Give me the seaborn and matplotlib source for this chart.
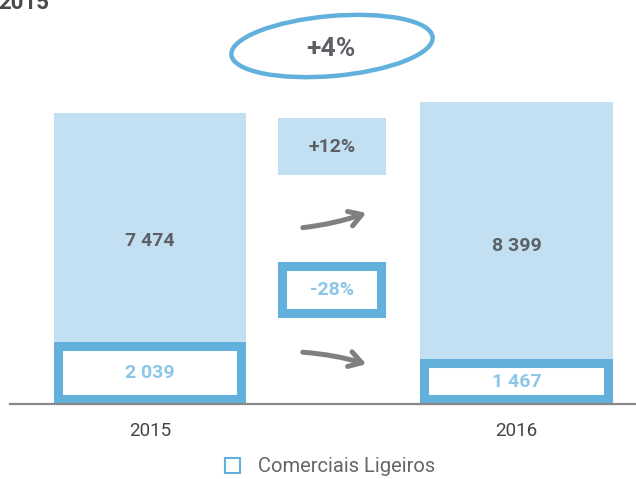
import matplotlib
matplotlib.use("Agg")
import matplotlib.pyplot as plt
import matplotlib.transforms as mtransforms
from matplotlib.patches import Rectangle, Ellipse, FancyArrowPatch, Patch
import seaborn as sns

# ---- data ----
years = ["2015", "2016"]
ligeiros = [2039, 1467]          # Comerciais Ligeiros (bottom segment)
outros = [7474, 8399]            # remaining (top segment)
totals = [a + b for a, b in zip(ligeiros, outros)]
var_outros = "+12%"
var_ligeiros = "-28%"
var_total = "+4%"
value_labels_lig = ["2 039", "1 467"]
value_labels_out = ["7 474", "8 399"]
legend_label = "Comerciais Ligeiros"
title_text = "2015"

# ---- style ----
sns.set_theme(style="white")
plt.rcParams["font.family"] = ["Roboto", "DejaVu Sans"]

LIGHT = "#c2e0f2"
BLUE = "#62b0dc"
TXT_BLUE = "#8cc6e8"
DARK = "#5d6166"
GRAY = "#808080"

W, H = 636, 479
fig = plt.figure(figsize=(W / 100, H / 100), dpi=100)
ax = fig.add_axes([10 / W, (H - 404) / H, 626 / W, 404 / H])

# pixel transform (top-left origin) for annotations
PX = mtransforms.Affine2D().scale(1, -1).translate(0, H)

sns.barplot(x=years, y=totals, color=LIGHT, saturation=1, width=0.525,
            ax=ax, linewidth=0)
n0 = len(ax.patches)
sns.barplot(x=years, y=ligeiros, color="white", saturation=1, width=0.525,
            edgecolor=BLUE, linewidth=13, ax=ax)
for p in ax.patches[n0:]:
    p.set_clip_path(p)

ymax = totals[0] * 404 / 291
ax.set_ylim(0, ymax)
ax.set_xlim(-0.3825, 1.3265)

for i in range(len(years)):
    ax.text(i, ligeiros[i] / 2, value_labels_lig[i], ha="center", va="center",
            fontsize=14, fontweight="bold", color=TXT_BLUE)
    ax.text(i, ligeiros[i] + outros[i] * 0.44, value_labels_out[i], ha="center",
            va="center", fontsize=14, fontweight="bold", color=DARK)

for s in ["top", "right", "left"]:
    ax.spines[s].set_visible(False)
ax.spines["bottom"].set_color("#888888")
ax.spines["bottom"].set_linewidth(1.6)
ax.set_yticks([])
ax.set_xlabel("")
ax.set_ylabel("")
ax.tick_params(axis="x", length=0, pad=13, labelsize=13.5, labelcolor="#444444")

# ---- annotations (pixel positions) ----
box1 = Rectangle((278, 118), 108, 57, transform=PX, facecolor=LIGHT,
                 edgecolor="none")
fig.add_artist(box1)
fig.text(332, 147, var_outros, transform=PX, ha="center", va="center",
         fontsize=14, fontweight="bold", color=DARK)

box2 = Rectangle((278, 262), 108, 56, transform=PX, facecolor="white",
                 edgecolor=BLUE, linewidth=13)
fig.add_artist(box2)
box2.set_clip_path(box2)
fig.text(332, 290, var_ligeiros, transform=PX, ha="center", va="center",
         fontsize=14, fontweight="bold", color=TXT_BLUE)

for (a, b, rad) in [((300, 228), (369, 212), 0.06), ((300, 352), (369, 365), -0.06)]:
    arr = FancyArrowPatch(a, b, transform=PX, connectionstyle=f"arc3,rad={rad}",
                          arrowstyle="->,head_length=9,head_width=5.5",
                          color=GRAY, linewidth=3.6, mutation_scale=1,
                          capstyle="round", joinstyle="round")
    fig.add_artist(arr)

ell = Ellipse((332, 46), 202, 60, angle=-5, transform=PX, facecolor="none",
              edgecolor=BLUE, linewidth=3.2)
fig.add_artist(ell)
fig.text(331, 49, var_total, transform=PX, ha="center", va="center",
         fontsize=19, fontweight="bold", color=DARK)

fig.text(-2, 9, title_text, transform=PX, ha="left", va="baseline",
         fontsize=16, fontweight="bold", color="#4a4a4a")

handle = Patch(facecolor="white", edgecolor=BLUE, linewidth=1.5)
fig.legend([handle], [legend_label], loc="center",
           bbox_to_anchor=(330 / W, 1 - 467 / H), frameon=False,
           handlelength=0.75, handleheight=0.75, handletextpad=0.9,
           prop={"size": 14.5}, labelcolor="#666666")

fig.savefig("out.png", dpi=100)
